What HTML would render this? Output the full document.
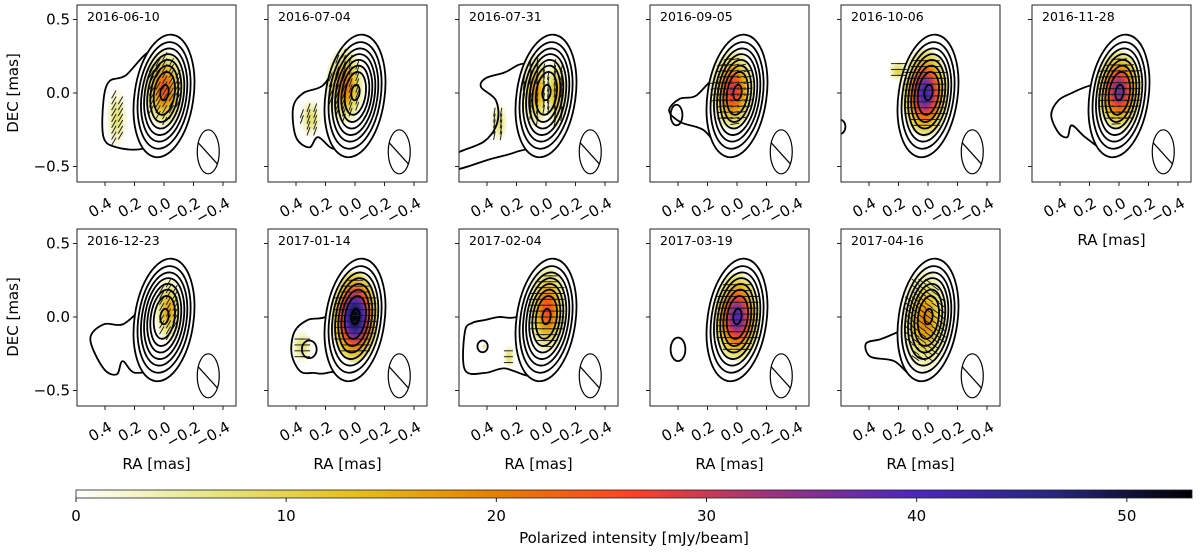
<!DOCTYPE html>
<html><head><meta charset="utf-8">
<style>
html,body{margin:0;padding:0;background:#fff;}
svg{display:block;font-family:"DejaVu Sans","Liberation Sans",sans-serif;}
</style></head>
<body>
<svg id="fig" width="1200" height="552" viewBox="0 0 1200 552" xmlns="http://www.w3.org/2000/svg">
<defs id="defs"></defs>
<g id="panels"></g>
<g id="cbar"></g>
</svg>
<script>
// ---- data ----
const dates = ["2016-06-10","2016-07-04","2016-07-31","2016-09-05","2016-10-06","2016-11-28","2016-12-23","2017-01-14","2017-02-04","2017-03-19","2017-04-16"];
const peakPI = [25,22,18,30,42,37,17,53,26,40,20];
const piCenterX = [0.0,0.07,0.07,0.03,0.02,0.0,-0.03,0.0,-0.01,0.0,0.02];
const piCenterY = [0.03,0.05,0.02,0.02,0.0,0.02,0.05,0.0,0.05,0.0,-0.02];
const piRadX = [0.14,0.13,0.10,0.15,0.16,0.16,0.09,0.16,0.13,0.16,0.16];
const piRadY = [0.26,0.26,0.25,0.27,0.30,0.27,0.22,0.31,0.29,0.30,0.34];
const evpaAngle = [60,70,80,10,0,5,60,0,0,0,-35];
// secondary polarized components [panel, x, y, rx, ry, peak]
const secondaryPI = [[0,0.32,-0.17,0.07,0.2,8],[1,0.3,-0.17,0.075,0.13,8],[2,-0.07,0.0,0.08,0.24,15],[2,0.32,-0.2,0.06,0.13,8],[4,0.2,0.15,0.07,0.07,10],[7,0.36,-0.2,0.07,0.11,8],[8,0.25,-0.27,0.04,0.08,8],[8,0.42,-0.2,0.015,0.02,8]];
// extended-emission outer contour points (RA, DEC in mas)
const extension = [
 [[0,0.2],[0.1,0.28],[0.26,0.12],[0.37,0.08],[0.41,-0.05],[0.41,-0.3],[0.32,-0.37],[0.15,-0.38],[0,-0.3]],
 [[0,0.15],[0.1,0.2],[0.22,0.05],[0.35,0.0],[0.42,-0.1],[0.4,-0.3],[0.31,-0.37],[0.25,-0.3],[0.14,-0.38],[0,-0.3]],
 [[0,0.15],[0.15,0.2],[0.28,0.14],[0.41,0.1],[0.44,0.04],[0.34,-0.05],[0.33,-0.2],[0.42,-0.33],[0.62,-0.42],[0.62,-0.52],[0.38,-0.45],[0.2,-0.4],[0,-0.3]],
 [[0,0.1],[0.15,0.1],[0.28,-0.02],[0.39,-0.04],[0.46,-0.12],[0.38,-0.2],[0.23,-0.25],[0.1,-0.38],[0,-0.3]],
 [[0,0]],
 [[0,0.1],[0.2,0.05],[0.32,0.0],[0.41,-0.05],[0.46,-0.15],[0.41,-0.27],[0.35,-0.3],[0.32,-0.22],[0.23,-0.3],[0.1,-0.38],[0,-0.3]],
 [[0,0.1],[0.15,0.05],[0.28,-0.05],[0.41,-0.05],[0.5,-0.15],[0.41,-0.35],[0.32,-0.39],[0.28,-0.3],[0.19,-0.38],[0,-0.3]],
 [[0,0.1],[0.2,0.0],[0.32,-0.02],[0.41,-0.1],[0.43,-0.25],[0.37,-0.37],[0.28,-0.38],[0.19,-0.38],[0,-0.3]],
 [[0,0.1],[0.2,0.0],[0.32,0.0],[0.41,-0.02],[0.5,-0.04],[0.55,-0.1],[0.55,-0.36],[0.41,-0.38],[0.28,-0.35],[0.1,-0.4],[0,-0.3]],
 [[0,0]],
 [[0,0.0],[0.2,-0.1],[0.32,-0.15],[0.42,-0.18],[0.39,-0.27],[0.23,-0.3],[0.1,-0.4],[0,-0.3]]
];
// isolated contour islands [panel, x, y, rx, ry]
const islands = [[3,0.41,-0.15,0.04,0.07],[4,0.6,-0.23,0.04,0.05],[7,0.31,-0.22,0.05,0.06],[8,0.43,-0.2,0.035,0.04],[9,0.4,-0.22,0.05,0.08]];
const contourScales = [1,0.87,0.76,0.66,0.56,0.46,0.35,0.14];
const xTicks = [0.4,0.2,0.0,-0.2,-0.4];
const yTicks = [0.5,0.0,-0.5];
const cbarTicks = [0,10,20,30,40,50];
const cbarMax = 53.1;

// ---- helpers ----
const NS="http://www.w3.org/2000/svg";
function mk(tag,attrs,parent){const e=document.createElementNS(NS,tag);for(const k in attrs)e.setAttribute(k,attrs[k]);if(parent)parent.appendChild(e);return e;}
const cm=[[1,1,1],[0.9,0.9,0.5],[0.9,0.75,0.1],[0.9,0.5,0],[1,0.25,0.15],[0.6,0.2,0.5],[0.3,0.15,0.75],[0.15,0.15,0.5],[0,0,0]];
function cmap(v){let t=Math.max(0,Math.min(1,v/cbarMax))*8;let i=Math.min(7,Math.floor(t));let f=t-i;const a=cm[i],b=cm[i+1];
 return "rgb("+[0,1,2].map(k=>Math.round(255*(a[k]+(b[k]-a[k])*f))).join(",")+")";}
function smooth(pts,sx,sy){const n=pts.length;let d="";const P=pts.map(p=>[sx(p[0]),sy(p[1])]);
 for(let i=0;i<n;i++){const p0=P[(i-1+n)%n],p1=P[i],p2=P[(i+1)%n],p3=P[(i+2)%n];
  if(i===0)d+="M"+p1[0].toFixed(1)+","+p1[1].toFixed(1);
  const c1=[p1[0]+(p2[0]-p0[0])/6,p1[1]+(p2[1]-p0[1])/6],c2=[p2[0]-(p3[0]-p1[0])/6,p2[1]-(p3[1]-p1[1])/6];
  d+="C"+c1.map(v=>v.toFixed(1))+" "+c2.map(v=>v.toFixed(1))+" "+p2.map(v=>v.toFixed(1));}
 return d+"Z";}

const defs=document.getElementById('defs');
const root=document.getElementById('panels');
const W=159,H=177,pitchX=191,pitchY=224,ox=77,oy=5,sc=147.5,scy=147;
const ROT=8;

dates.forEach((date,i)=>{
 const col=i<6?i:i-6,row=i<6?0:1;
 const x0=ox+col*pitchX,y0=oy+row*pitchY;
 const sx=v=>x0+87-v*sc, sy=v=>y0+88-v*scy;
 const g=mk('g',{},root);
 
 
 const cp=mk('clipPath',{id:'clip'+i},defs);mk('rect',{x:x0,y:y0,width:W,height:H},cp);
 const mask=mk('mask',{id:'mask'+i},defs);
 mk('rect',{x:x0-5,y:y0-5,width:W+10,height:H+10,fill:'#fff'},mask);
 const cx=sx(0),cy=sy(-0.02);
 mk('ellipse',{cx:cx,cy:cy,rx:0.2*sc,ry:0.42*scy,transform:`rotate(${ROT} ${cx} ${cy})`,fill:'#000'},mask);
 const inner=mk('g',{'clip-path':`url(#clip${i})`},g);
 const blobs=[[piCenterX[i],piCenterY[i],piRadX[i],piRadY[i],peakPI[i]]];
 secondaryPI.filter(s=>s[0]===i).forEach(s=>blobs.push(s.slice(1)));
 blobs.forEach((b,j)=>{
  const gid='grad'+i+'_'+j;const gr=mk('radialGradient',{id:gid},defs);
  for(let k=0;k<=10;k++){const t=k/10;mk('stop',{offset:t,'stop-color':cmap(b[4]*Math.exp(-t*t*2.2)),'stop-opacity':k===10?0.85:1},gr);}
  const e=mk('ellipse',{cx:sx(b[0]),cy:sy(b[1]),rx:b[2]*sc,ry:b[3]*scy,fill:`url(#${gid})`},inner);
  
  
 });
 const sg=mk('g',{stroke:'#222','stroke-width':1},inner);
 
 
 blobs.forEach(b=>{
  const a=evpaAngle[i]*Math.PI/180,L=4.5;
  for(let dx=-b[2];dx<=b[2];dx+=0.045)for(let dy=-b[3];dy<=b[3];dy+=0.04){
   if((dx/b[2])**2+(dy/b[3])**2>0.75)continue;
   const px=sx(b[0]+dx),py=sy(b[1]+dy);
   mk('line',{x1:px-L*Math.cos(a),y1:py+L*Math.sin(a),x2:px+L*Math.cos(a),y2:py-L*Math.sin(a)},sg);
  }});
 const cg=mk('g',{fill:'none',stroke:'#000','stroke-width':1.8},inner);
 
 
 if(extension[i].length>2){mk('path',{d:smooth(extension[i],sx,sy),mask:`url(#mask${i})`},cg);}
 contourScales.forEach(s=>{
  mk('ellipse',{cx:cx,cy:cy+ (1-s)*(-4),rx:0.2*sc*s,ry:0.42*scy*s*(s<0.2?0.9:1),transform:`rotate(${ROT} ${cx} ${cy})`},cg);
 });
 islands.filter(s=>s[0]===i).forEach(s=>mk('ellipse',{cx:sx(s[1]),cy:sy(s[2]),rx:s[3]*sc,ry:s[4]*scy},cg));
 const bx=sx(-0.3),by=sy(-0.4);
 const bg=mk('g',{fill:'none',stroke:'#000','stroke-width':1.2},inner);
 
 
 mk('ellipse',{cx:bx,cy:by,rx:11,ry:22},bg);
 mk('line',{x1:bx-10,y1:by-9,x2:bx+9,y2:by+12},bg);
 const fr=mk('rect',{x:x0,y:y0,width:W,height:H,fill:'none',stroke:'#222','stroke-width':1},g);
 
 
 const dl=mk('text',{x:x0+10,y:y0+16,'font-size':12.5,fill:'#000'},g);dl.textContent=date;
 
 
 xTicks.forEach(t=>{
  const tx=sx(t);mk('line',{x1:tx,y1:y0+H,x2:tx,y2:y0+H+4,stroke:'#222'},g);
  const lb=mk('text',{x:tx+8,y:y0+H+24,'font-size':15,'text-anchor':'end',transform:`rotate(-30 ${tx+8} ${y0+H+24})`},g);
  lb.textContent=(t<0?"\u2212":"")+Math.abs(t).toFixed(1);
  
  
 });
 yTicks.forEach(t=>{
  const ty=sy(t);mk('line',{x1:x0,y1:ty,x2:x0-4,y2:ty,stroke:'#222'},g);
  if(col===0){const lb=mk('text',{x:x0-7,y:ty+5,'font-size':15,'text-anchor':'end'},g);
   lb.textContent=(t<0?"\u2212":"")+Math.abs(t).toFixed(1);
   
   }
 });
 if(col===0){const yl=mk('text',{x:0,y:0,'font-size':15,'text-anchor':'middle',transform:`translate(18 ${y0+88}) rotate(-90)`},g);
  yl.textContent="DEC [mas]";
  
  }
 if(row===1||col===5){const xl=mk('text',{x:x0+W/2,y:y0+H+63,'font-size':15,'text-anchor':'middle'},g);
  xl.textContent="RA [mas]";
  
  }
});

const cb=document.getElementById('cbar');
const cbx0=76,cbx1=1192,cby=490,cbh=8;
const lg=mk('linearGradient',{id:'cbgrad',x1:0,x2:1,y1:0,y2:0},defs);
for(let k=0;k<=40;k++){mk('stop',{offset:k/40,'stop-color':cmap(cbarMax*k/40)},lg);}
mk('rect',{x:cbx0,y:cby,width:cbx1-cbx0,height:cbh,fill:'url(#cbgrad)',stroke:'#222','stroke-width':0.8},cb);
const cbs=v=>cbx0+v/cbarMax*(cbx1-cbx0);
cbarTicks.forEach(t=>{
 mk('line',{x1:cbs(t),y1:cby+cbh,x2:cbs(t),y2:cby+cbh+4,stroke:'#222'},cb);
 const lb=mk('text',{x:cbs(t),y:cby+cbh+23,'font-size':15,'text-anchor':'middle'},cb);
 lb.textContent=String(t);
 
 
});
const cl=mk('text',{x:634,y:543,'font-size':15,'text-anchor':'middle'},cb);
cl.textContent="Polarized intensity [mJy/beam]";


</script>
</body></html>
